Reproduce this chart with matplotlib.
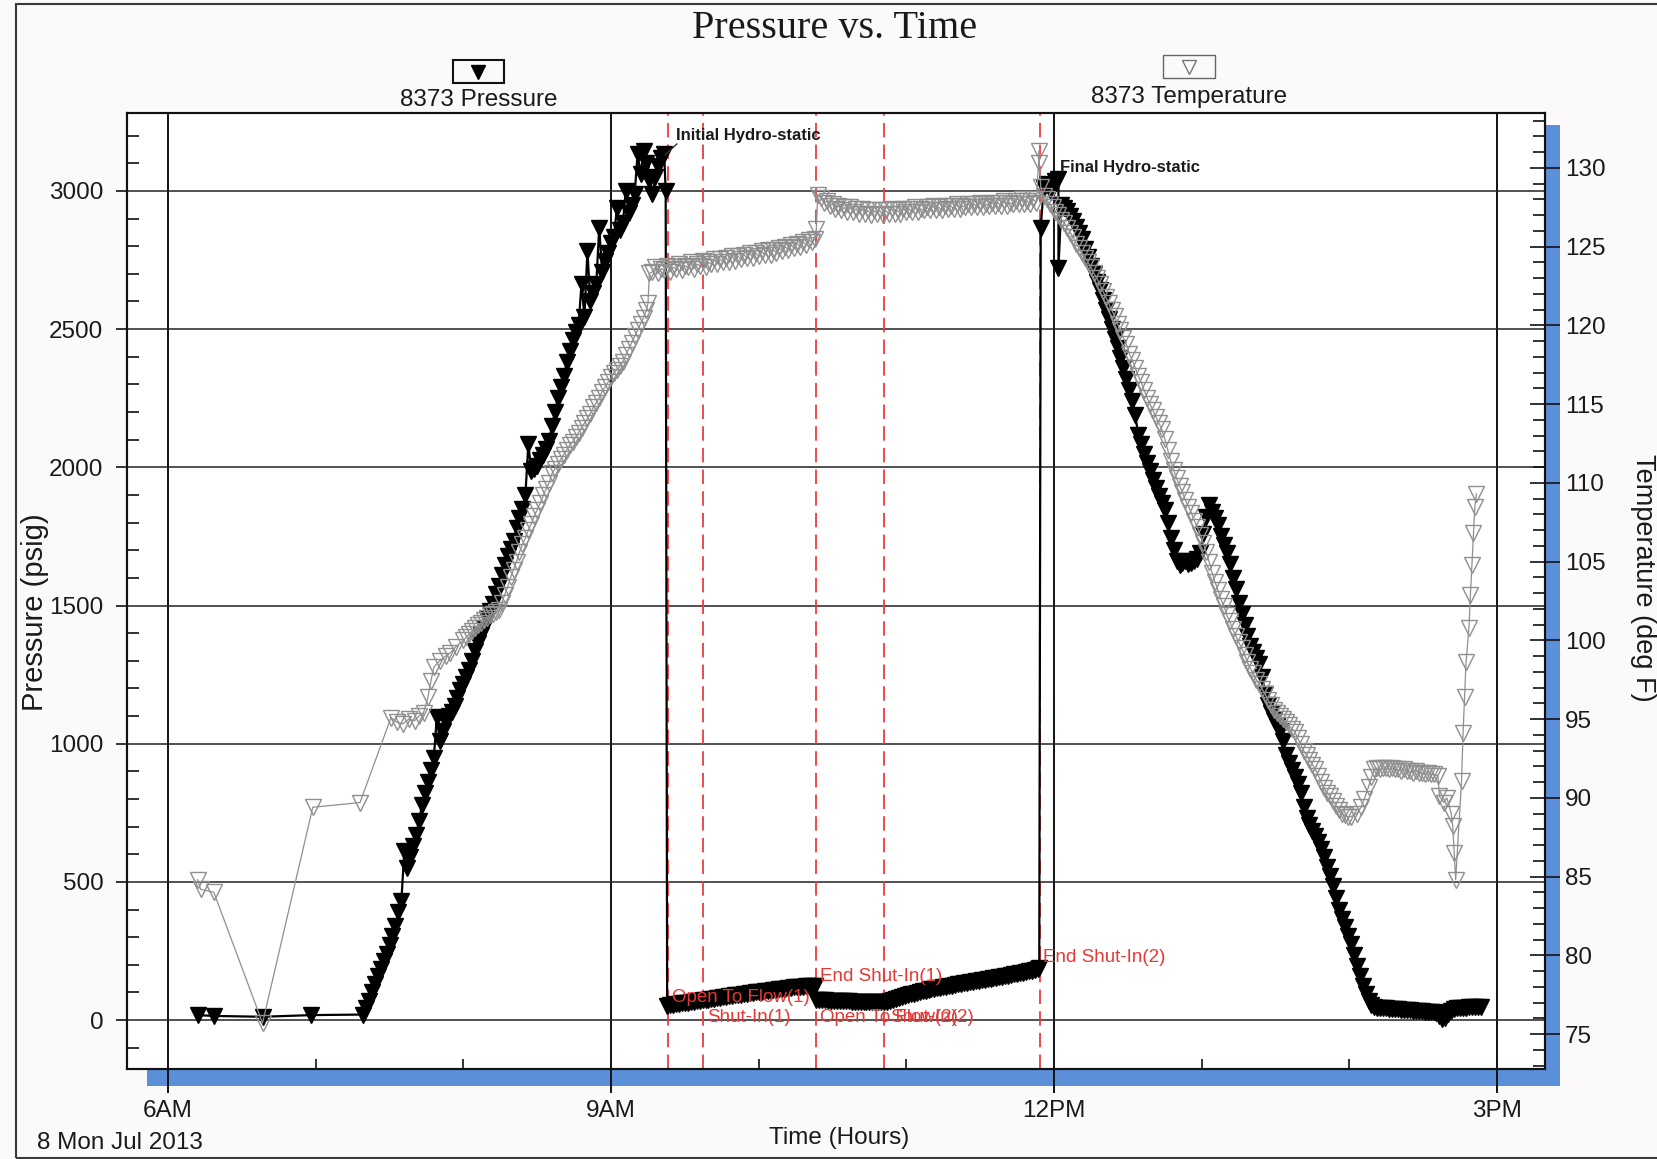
import matplotlib

matplotlib.use("Agg")
import matplotlib.pyplot as plt
from matplotlib.lines import Line2D
from matplotlib.patches import Rectangle

# Gauge 8373. Sparse stretches are (hour, value) pairs; the densely logged
# stretches are (first hour, logging step in hours, values read off the chart).
pressure_early = [(6.20, 18), (6.31, 15), (6.64, 12), (6.97, 18), (7.32, 20)]
pressure_run_in = (7.34, 0.02, [
    45, 70, 100, 130, 160, 185, 212, 240, 270, 305,
    340, 390, 430, 611, 551, 590, 630, 670, 720, 780,
    820, 860, 905, 950, 1096, 1010, 1047, 1080, 1100, 1115,
    1135, 1165, 1195, 1215, 1240, 1265, 1300, 1335, 1365, 1395,
    1420, 1450, 1480, 1506, 1540, 1570, 1610, 1645, 1680, 1705,
    1735, 1780, 1815, 1850, 1900, 2084, 1985, 1995, 2005, 2025,
    2045, 2065, 2095, 2150, 2200, 2250, 2289, 2330, 2380, 2420,
    2460, 2490, 2515, 2663, 2545, 2783, 2600, 2630, 2665, 2867,
    2705, 2745, 2775, 2810, 2835, 2940, 2860, 2885, 3000, 2920,
    2950, 2990, 3133, 3060, 3145, 3100, 3040, 2988, 3050, 3090,
    3120, 3133,
])
pressure_initial_hydro = [(9.37, 3000)]
pressure_flow1 = (9.38, 0.02, [
    52, 54, 55, 57, 59, 60, 61, 63, 65, 66,
    68, 70, 71, 73, 74, 76, 78, 79, 81, 83,
    84, 86, 87, 89, 91, 92, 94, 95, 97, 98,
    100, 101, 103, 104, 106, 107, 109, 110, 111, 113,
    114, 115, 116, 118, 119, 120, 121, 122, 123, 124, 125,
])
pressure_flow2 = (10.39, 0.02, [
    72, 72, 71, 71, 70, 70, 70, 69, 69, 68, 68, 68, 67,
    67, 67, 66, 66, 66, 66, 65, 65, 65, 65, 65, 65,
])
pressure_shut_in2 = (10.89, 0.02, [
    68, 72, 76, 80, 84, 87, 90, 93, 96, 99,
    101, 104, 106, 109, 111, 113, 115, 117, 119, 121,
    123, 125, 127, 129, 131, 133, 135, 137, 138, 140,
    142, 144, 146, 148, 149, 151, 153, 155, 157, 159,
    161, 163, 165, 167, 169, 171, 173, 176, 179, 182, 186,
])
pressure_final_hydro = [
    (11.90, 190), (11.91, 2867), (11.93, 3010), (11.95, 3024), (11.98, 2995),
    (12.01, 3035), (12.03, 3042), (12.03, 2722),
]
pressure_pull_out = (12.05, 0.02, [
    2950, 2940, 2928, 2910, 2890, 2868, 2848, 2825, 2790, 2760,
    2730, 2700, 2670, 2640, 2605, 2570, 2535, 2500, 2465, 2430,
    2395, 2360, 2320, 2280, 2240, 2190, 2118, 2085, 2050, 2015,
    1985, 1955, 1925, 1895, 1870, 1845, 1800, 1745, 1700, 1660,
    1647, 1655, 1660, 1652, 1655, 1660, 1668, 1690, 1760, 1822,
    1865, 1840, 1815, 1790, 1750, 1720, 1690, 1650, 1600, 1560,
    1510, 1470, 1430, 1390, 1355, 1330, 1310, 1290, 1240, 1180,
    1140, 1110, 1085, 1065, 1045, 1010, 960, 930, 905, 880,
    855, 820, 770, 730, 705, 685, 665, 645, 620, 590,
    555, 520, 485, 440, 400, 365, 335, 305, 275, 235,
    195, 160, 125, 95, 70, 55, 48, 45, 44, 43,
    42, 41, 40, 40, 39, 38, 37, 36, 35, 34,
    33, 33, 32, 31, 30, 29, 28, 25, 15, 3,
    8, 22, 34, 40, 43, 44, 45, 45, 46, 46,
    47, 47, 47,
])

temperature_early = [
    (6.20, 84.8), (6.22, 84.2), (6.31, 84.0), (6.64, 75.7), (6.98, 89.4),
    (7.30, 89.7), (7.51, 95.1), (7.55, 94.8), (7.59, 94.7), (7.63, 95.0),
    (7.67, 94.9), (7.70, 95.2), (7.73, 95.4), (7.76, 96.4), (7.78, 97.4),
    (7.80, 98.3), (7.84, 98.7), (7.88, 99.0), (7.91, 99.2), (7.95, 99.6),
]
temperature_run_in = (8.00, 0.02, [
    100.0, 100.2, 100.4, 100.6, 100.8, 101.0, 101.1, 101.3, 101.4, 101.6,
    101.7, 101.8, 101.9, 102.4, 102.9, 103.4, 104.0, 104.5, 105.0, 105.6,
    106.1, 106.5, 107.0, 107.4, 107.9, 108.3, 108.7, 109.2, 109.6, 110.0,
    110.6, 110.9, 111.2, 111.5, 111.8, 112.1, 112.4, 112.6, 112.9, 113.2,
    113.5, 113.8, 114.1, 114.4, 114.8, 115.1, 115.4, 115.8, 116.1, 116.4,
    116.7, 117.0, 117.2, 117.4, 117.7, 118.1, 118.5, 118.9, 119.3, 119.7,
    120.1, 120.5, 121.0,
])
temperature_arrive = [(9.25, 121.4), (9.26, 123.3)]
temperature_bottom1 = (9.28, 0.02, [
    123.4, 123.7, 123.3, 123.6, 123.5, 123.8, 123.4, 123.7, 123.6, 123.9,
    123.5, 123.8, 123.7, 124.0, 123.6, 123.9, 123.8, 124.1, 123.7, 124.0,
    123.9, 124.2, 123.9, 124.2, 124.0, 124.3, 124.0, 124.4, 124.1, 124.4,
    124.2, 124.5, 124.3, 124.6, 124.3, 124.6, 124.4, 124.7, 124.5, 124.8,
    124.5, 124.8, 124.6, 124.9, 124.7, 125.0, 124.8, 125.1, 124.9, 125.2,
    125.0, 125.3, 125.1, 125.4, 125.3, 125.5,
])
temperature_jump = [(10.39, 126.1), (10.40, 128.3)]
temperature_bottom2 = (10.42, 0.02, [
    128.1, 127.8, 127.9, 127.6, 127.7, 127.4, 127.6, 127.3, 127.5, 127.2,
    127.5, 127.2, 127.4, 127.1, 127.4, 127.1, 127.3, 127.0, 127.3, 127.1,
    127.3, 127.0, 127.3, 127.1, 127.4, 127.1, 127.3, 127.1, 127.4, 127.2,
    127.4, 127.2, 127.5, 127.2, 127.4, 127.3, 127.5, 127.3, 127.6, 127.3,
    127.5, 127.3, 127.6, 127.4, 127.6, 127.4, 127.7, 127.4, 127.6, 127.5,
    127.7, 127.5, 127.7, 127.5, 127.8, 127.5, 127.7, 127.6, 127.8, 127.6,
    127.8, 127.6, 127.9, 127.6, 127.8, 127.7, 127.9, 127.7, 128.0, 127.7,
    127.9, 127.7, 128.0, 127.8,
])
temperature_final_hydro = [(11.90, 131.1), (11.90, 130.3), (11.91, 128.8)]
temperature_pull_out = (11.93, 0.02, [
    128.2, 128.0, 127.7, 127.5, 127.2, 127.0, 126.7, 126.5, 126.2, 125.9,
    125.6, 125.2, 124.9, 124.6, 124.3, 124.0, 123.7, 123.3, 123.0, 122.6,
    122.2, 121.8, 121.4, 121.0, 120.6, 120.1, 119.7, 119.2, 118.8, 118.2,
    117.8, 117.3, 116.8, 116.4, 115.9, 115.4, 115.0, 114.6, 114.2, 113.8,
    113.4, 112.8, 112.1, 111.4, 110.8, 110.3, 109.8, 109.4, 108.9, 108.5,
    108.1, 107.6, 107.2, 106.7, 106.2, 105.6, 105.0, 104.3, 103.7, 103.2,
    102.6, 102.2, 101.6, 101.2, 100.7, 100.3, 99.9, 99.5, 99.1, 98.6,
    98.2, 97.9, 97.5, 97.2, 96.9, 96.6, 96.2, 95.9, 95.6, 95.4,
    95.2, 95.0, 94.8, 94.6, 94.4, 94.2, 93.8, 93.4, 93.0, 92.7,
    92.4, 92.1, 91.8, 91.4, 91.0, 90.6, 90.3, 90.1, 89.8, 89.5,
    89.2, 89.0, 88.9, 88.8, 88.8,
])
temperature_surface = [
    (14.05, 89.0), (14.08, 89.4), (14.10, 89.9), (14.13, 90.7), (14.15, 91.3),
    (14.17, 91.8), (14.19, 91.9), (14.21, 91.8), (14.23, 91.9), (14.25, 91.9),
    (14.27, 91.8), (14.29, 91.9), (14.31, 91.8), (14.33, 91.8), (14.35, 91.7),
    (14.37, 91.8), (14.39, 91.7), (14.41, 91.7), (14.43, 91.6), (14.45, 91.7),
    (14.47, 91.6), (14.49, 91.6), (14.51, 91.5), (14.53, 91.6), (14.55, 91.5),
    (14.57, 91.5), (14.60, 91.4),
    (14.61, 90.1), (14.64, 89.7), (14.66, 90.0), (14.69, 89.0),
    (14.70, 88.2), (14.71, 86.5), (14.72, 84.8), (14.76, 91.1),
    (14.77, 94.1), (14.78, 96.4), (14.79, 98.6), (14.81, 100.8),
    (14.82, 102.9), (14.83, 104.8), (14.84, 106.8), (14.85, 108.5),
    (14.86, 109.3),
]

# test events: dashed line times and the red labels (anchor hour, psig)
event_hours = [9.385, 9.625, 10.39, 10.85, 11.905]
event_labels = ["Open To Flow(1)", "Shut-In(1)", "End Shut-In(1)",
                "Open To Flow(2)", "Shut-In(2)", "End Shut-In(2)"]
event_label_hours = [9.41, 9.65, 10.415, 10.415, 10.89, 11.925]
event_label_psig = [80, 11, 159, 11, 11, 228]

time_ticks = [6, 9, 12, 15]
time_tick_labels = ["6AM", "9AM", "12PM", "3PM"]

W, H = 1657, 1159


def fx(px):
    return px / W


def fy(py):
    return 1 - py / H


def logged(segment):
    start, step, values = segment
    return [(start + i * step, v) for i, v in enumerate(values)]


plt.rcParams["font.family"] = ["Liberation Sans", "DejaVu Sans"]
plt.rcParams["text.color"] = "#1a1a1a"
plt.rcParams["xtick.color"] = "#111111"
plt.rcParams["ytick.color"] = "#111111"
plt.rcParams["xtick.labelcolor"] = "#1a1a1a"
plt.rcParams["ytick.labelcolor"] = "#1a1a1a"

fig = plt.figure(figsize=(W / 100, H / 100), dpi=100, facecolor="#fbfaf8")

# blue drop shadow behind the plot frame
fig.add_artist(Rectangle((fx(147), fy(1086)), fx(1560) - fx(147), fy(125) - fy(1086),
                         transform=fig.transFigure, facecolor="#5b8fd8",
                         edgecolor="none", zorder=-1))
# outer page frame
fig.add_artist(Rectangle((fx(16), fy(1158)), 1.02 - fx(16), fy(4) - fy(1158),
                         transform=fig.transFigure, fill=False,
                         edgecolor="#3a3a3a", lw=1.5, zorder=-1))

ax = fig.add_axes([fx(127), fy(1069), fx(1545) - fx(127), fy(113) - fy(1069)])
ax.set_facecolor("white")
ax.set_zorder(1)
ax2 = ax.twinx()

ax.set_xlim(5.722, 15.325)
ax.set_ylim(-177, 3282)
ax2.set_ylim(72.78, 133.49)

for a in (ax, ax2):
    for s in a.spines.values():
        s.set_linewidth(1.5)
        s.set_color("#111111")

ax.set_xticks(time_ticks)
ax.set_xticklabels(time_tick_labels)
ax.set_xticks([7, 8, 10, 11, 13, 14], minor=True)
ax.tick_params(axis="x", which="major", direction="out", length=17, width=1.4,
               pad=5, labelsize=17.5)
ax.tick_params(axis="x", which="minor", direction="in", length=7, width=1.2)
ax.set_yticks(range(0, 3001, 500))
ax.set_yticks(range(-100, 3201, 100), minor=True)
ax.tick_params(axis="y", which="major", direction="out", length=8, width=1.2,
               pad=9, labelsize=17.5)
ax.tick_params(axis="y", which="minor", direction="in", length=8.5, width=1.2)
ax.xaxis.grid(True, which="major", color="#111111", lw=1.4)
ax.yaxis.grid(True, which="major", color="#222222", lw=1.1)
ax.set_axisbelow(True)

ax2.set_yticks(range(75, 131, 5))
ax2.set_yticks(range(73, 134), minor=True)
ax2.tick_params(axis="y", which="major", direction="inout", length=21, width=1.2,
                pad=4, labelsize=17.5)
ax2.tick_params(axis="y", which="minor", direction="in", length=8.5, width=1.2)

for t in event_hours:
    ax.axvline(t, color="#ee3b3b", lw=1.3, ls=(0, (8, 4)), zorder=1.5)

pressure = (pressure_early + logged(pressure_run_in) + pressure_initial_hydro
            + logged(pressure_flow1) + logged(pressure_flow2)
            + logged(pressure_shut_in2) + pressure_final_hydro
            + logged(pressure_pull_out))
temperature = (temperature_early + logged(temperature_run_in) + temperature_arrive
               + logged(temperature_bottom1) + temperature_jump
               + logged(temperature_bottom2) + temperature_final_hydro
               + logged(temperature_pull_out) + temperature_surface)
p_hours, p_psig = zip(*pressure)
t_hours, t_degf = zip(*temperature)

ax.plot(p_hours, p_psig, color="black", lw=1.6, marker="v", ms=11.5,
        mfc="black", mec="black", zorder=3)
ax2.plot(t_hours, t_degf, color="#8f8f8f", lw=0.9, marker="v", ms=11,
         mfc="none", mec="#8f8f8f", mew=1.0, zorder=3)

for label, h, p in zip(event_labels, event_label_hours, event_label_psig):
    ax.text(h, p, label, color="#e53935", fontsize=13.5, ha="left", va="center",
            zorder=5)

narrow = ["Liberation Sans Narrow", "Liberation Sans", "DejaVu Sans"]
ax.text(9.44, 3200, "Initial Hydro-static", fontsize=12, fontweight="bold",
        family=narrow, ha="left", va="center", zorder=5)
ax.plot([9.446, 9.366], [3170, 3130], color="#333333", lw=1, zorder=5)
ax.text(12.04, 3085, "Final Hydro-static", fontsize=12, fontweight="bold",
        family=narrow, ha="left", va="center", zorder=5)

# legend boxes above the plot
fig.add_artist(Rectangle((fx(452.5), fy(83)), 51 / W, 23 / H,
                         transform=fig.transFigure, fill=False,
                         edgecolor="#111111", lw=1.5))
fig.add_artist(Line2D([fx(478)], [fy(71.5)], marker="v", ms=10, color="black",
                      transform=fig.transFigure))
fig.text(fx(479), fy(100), "8373 Pressure", ha="center", va="center", fontsize=17.5)
fig.add_artist(Rectangle((fx(1163), fy(78)), 52 / W, 23 / H,
                         transform=fig.transFigure, fill=False,
                         edgecolor="#666666", lw=1.0))
fig.add_artist(Line2D([fx(1189)], [fy(66.5)], marker="v", ms=10, mfc="none",
                      mec="#777777", mew=1.0, transform=fig.transFigure))
fig.text(fx(1189), fy(97), "8373 Temperature", ha="center", va="center",
         fontsize=17.5)

fig.text(fx(835), fy(29), "Pressure vs. Time", ha="center", va="center",
         family=["Liberation Serif", "DejaVu Serif"], fontsize=29)
fig.text(fx(35), fy(612), "Pressure (psig)", rotation=90, ha="center",
         va="center", fontsize=21)
fig.text(fx(1643), fy(578), "Temperature (deg F)", rotation=270, ha="center",
         va="center", fontsize=19.5)
fig.text(fx(839), fy(1138), "Time (Hours)", ha="center", va="center", fontsize=17.5)
fig.text(fx(37), fy(1143), "8 Mon Jul 2013", ha="left", va="center", fontsize=17.5)

fig.savefig("out.png", dpi=100, facecolor=fig.get_facecolor())
